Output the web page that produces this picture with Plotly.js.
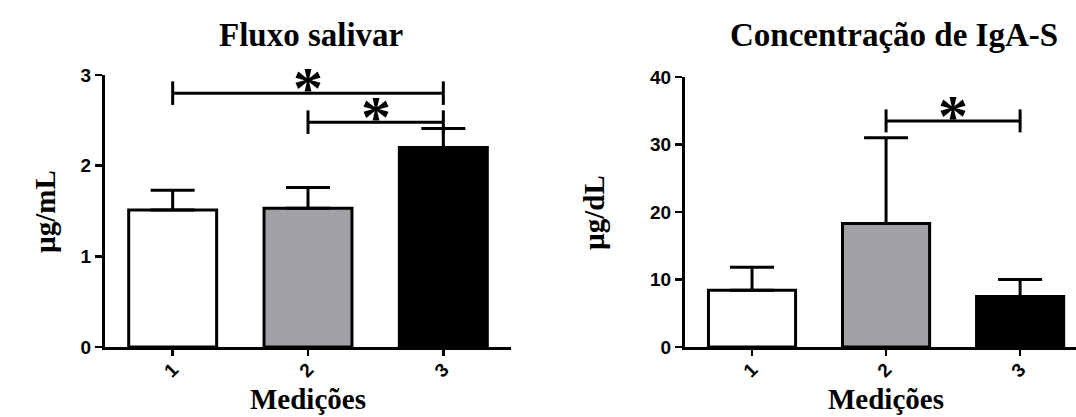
<!DOCTYPE html>
<html>
<head>
<meta charset="utf-8">
<script src="https://cdn.plot.ly/plotly-3.0.1.min.js"></script>
<style>html,body{margin:0;padding:0;background:#fff;}#chart{width:1076px;height:417px;}</style>
</head>
<body>
<div id="chart"></div>
<script>
// ---- data ----
const categories = [1, 2, 3];
const tickLabels = ["1", "2", "3"];
const fluxoMean = [1.51, 1.53, 2.20];
const fluxoSD = [0.22, 0.23, 0.21];
const igaMean = [8.4, 18.3, 7.5];
const igaSD = [3.4, 12.7, 2.5];
const barColors = ["#ffffff", "#a2a2a6", "#000000"];
const titleLeft = "Fluxo salivar";
const titleRight = "Concentração de IgA-S";
const xTitle = "Medições";
const yTitleLeft = "µg/mL";
const yTitleRight = "µg/dL";
const fluxoTicks = [0, 1, 2, 3];
const igaTicks = [0, 10, 20, 30, 40];
// significance comparisons: [from, to, bar level, tick half-height]
const fluxoSig = [[1, 3, 2.80, 0.13], [2, 3, 2.48, 0.13]];
const igaSig = [[2, 3, 33.5, 1.7]];

const serif = "Liberation Serif, Times New Roman, serif";
const sans = "Liberation Sans, Arial, sans-serif";

function barTrace(y, err, xa, ya) {
  return {
    type: "bar", x: categories, y: y, width: 0.65,
    xaxis: xa, yaxis: ya,
    marker: {color: barColors, line: {color: "#000", width: 3}},
    error_y: {type: "data", array: err, arrayminus: err.map(() => 0), symmetric: false,
              color: "#000", thickness: 3, width: 22},
    hoverinfo: "y", showlegend: false
  };
}

const traces = [
  barTrace(fluxoMean, fluxoSD, "x", "y"),
  barTrace(igaMean, igaSD, "x2", "y2")
];

function xAxis(domain, range, anchor) {
  return {
    domain: domain, range: range, anchor: anchor,
    tickvals: categories, ticktext: tickLabels, tickangle: -45,
    ticklabelstandoff: -5,
    showline: true, linecolor: "#000", linewidth: 3,
    ticks: "outside", ticklen: 6, tickwidth: 2.5, tickcolor: "#000",
    tickfont: {family: sans, size: 19, color: "#000", weight: "bold"},
    showgrid: false, zeroline: false, fixedrange: true
  };
}
function yAxis(domain, range, ticks, anchor) {
  return {
    domain: domain, range: range, anchor: anchor,
    tickvals: ticks,
    showline: true, linecolor: "#000", linewidth: 3,
    ticks: "outside", ticklen: 7, tickwidth: 2.5, tickcolor: "#000",
    tickfont: {family: sans, size: 19, color: "#000", weight: "bold"},
    showgrid: false, zeroline: false, fixedrange: true
  };
}

const shapes = [];
const annotations = [];
function addSig(list, xr, yr) {
  list.forEach(s => {
    const [a, b, lvl, h] = s;
    const line = {color: "#000", width: 3};
    shapes.push({type: "line", xref: xr, yref: yr, x0: a, x1: b, y0: lvl, y1: lvl, line: line});
    shapes.push({type: "line", xref: xr, yref: yr, x0: a, x1: a, y0: lvl - h, y1: lvl + h, line: line});
    shapes.push({type: "line", xref: xr, yref: yr, x0: b, x1: b, y0: lvl - h, y1: lvl + h, line: line});
    annotations.push({xref: xr, yref: yr, x: (a + b) / 2, y: lvl, text: "*", showarrow: false,
      xanchor: "center", yanchor: "bottom", yshift: -30,
      font: {family: serif, size: 60, color: "#000", weight: "bold"}});
  });
}
addSig(fluxoSig, "x", "y");
addSig(igaSig, "x2", "y2");

function txt(x, y, text, size, angle, yanchor) {
  annotations.push({xref: "paper", yref: "paper", x: x, y: y, text: text, showarrow: false,
    xanchor: "center", yanchor: yanchor || "middle", textangle: angle || 0,
    font: {family: serif, size: size, color: "#000", weight: "bold"}});
}
txt(311 / 1076, (417 - 35) / 417, titleLeft, 33);
txt(894 / 1076, (417 - 35) / 417, titleRight, 33);
txt(308 / 1076, 0, xTitle, 29, 0, "bottom");
txt(886 / 1076, 0, xTitle, 29, 0, "bottom");
txt(45 / 1076, (417 - 212) / 417, yTitleLeft, 29, -90);
txt(594 / 1076, (417 - 212) / 417, yTitleRight, 29, -90);

const layout = {
  width: 1076, height: 417,
  margin: {l: 0, r: 0, t: 0, b: 0},
  paper_bgcolor: "#fff", plot_bgcolor: "#fff",
  xaxis: xAxis([105 / 1076, 511 / 1076], [0.5, 3.5], "y"),
  yaxis: yAxis([70 / 417, 342 / 417], [0, 3], fluxoTicks, "x"),
  xaxis2: xAxis([685 / 1076, 1], [0.5, 3.417], "y2"),
  yaxis2: yAxis([70 / 417, 340 / 417], [0, 40], igaTicks, "x2"),
  shapes: shapes, annotations: annotations,
  bargap: 0.35, showlegend: false
};

Plotly.newPlot("chart", traces, layout, {displayModeBar: false, staticPlot: true});
</script>
</body>
</html>
